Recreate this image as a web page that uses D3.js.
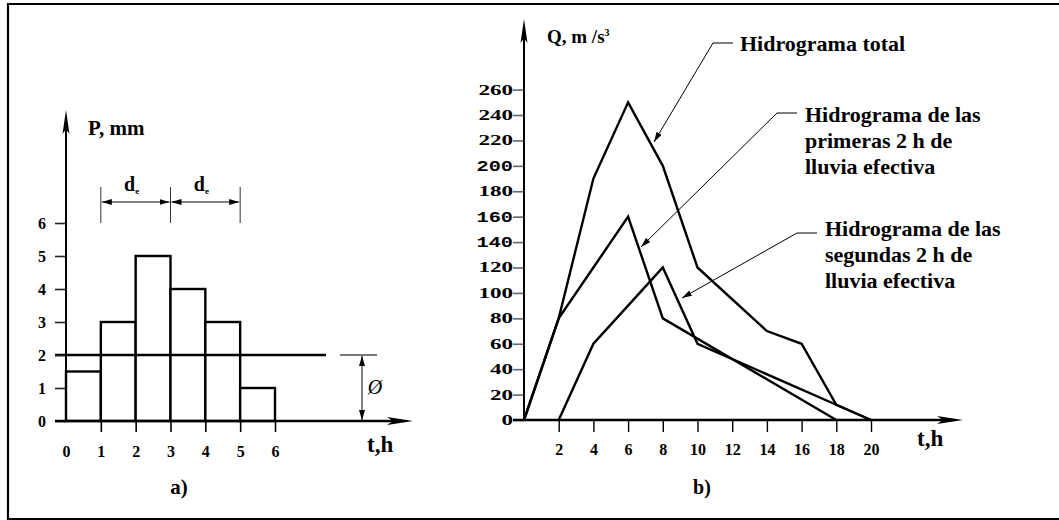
<!DOCTYPE html>
<html>
<head>
<meta charset="utf-8">
<script src="https://cdn.jsdelivr.net/npm/d3@7"></script>
<style>
  html, body { margin: 0; padding: 0; background: #fff; }
  svg { display: block; }
  text { font-family: "Liberation Serif", "Times New Roman", serif; font-weight: bold; fill: #000; }
</style>
</head>
<body>
<svg id="fig" width="1059" height="520"></svg>
<script>
// ---- a) effective rainfall hyetograph ----
const rainStart = [0, 1, 2, 3, 4, 5];        // h
const rainDepth = [1.5, 3, 5, 4, 3, 1];      // mm
const phiIndex = 2;                          // mm/h
const pTicks = [0, 1, 2, 3, 4, 5, 6];
const hourTicks = [0, 1, 2, 3, 4, 5, 6];
const blockBounds = [1, 3, 5];               // limits of the two d_e blocks

// ---- b) hydrographs ----
const qTicks = [0, 20, 40, 60, 80, 100, 120, 140, 160, 180, 200, 220, 240, 260];
const monoTicks = [140, 160, 200];
const tTicks = [2, 4, 6, 8, 10, 12, 14, 16, 18, 20];
const totalT = [0, 2, 4, 6, 8, 10, 14, 16, 18, 20];
const totalQ = [0, 80, 190, 250, 200, 120, 70, 60, 12, 0];
const firstT = [0, 2, 4, 6, 8, 18];
const firstQ = [0, 80, 120, 160, 80, 0];
const secondT = [2, 4, 6, 8, 10, 18, 20];
const secondQ = [0, 60, 90, 120, 60, 12, 0];
const noteTotal = ["Hidrograma total"];
const noteFirst = ["Hidrograma de las", "primeras 2 h de", "lluvia efectiva"];
const noteSecond = ["Hidrograma de las", "segundas 2 h de", "lluvia efectiva"];

const svg = d3.select("#fig");

// outer frame
const frame = svg.append("g").attr("stroke", "#000").attr("fill", "none");
frame.append("line").attr("x1", 7).attr("x2", 1059).attr("y1", 4).attr("y2", 4).attr("stroke-width", 2.2);
frame.append("line").attr("x1", 8).attr("x2", 8).attr("y1", 3).attr("y2", 520).attr("stroke-width", 2.2);
frame.append("line").attr("x1", 7).attr("x2", 1059).attr("y1", 519).attr("y2", 519).attr("stroke-width", 2);

// arrow helpers
function arrowHead(g, tipX, tipY, dir, len, half) {
  let d;
  if (dir === "up") {
    d = `M${tipX},${tipY} L${tipX + half},${tipY + len} L${tipX},${tipY + len - 5} L${tipX - half},${tipY + len} Z`;
  } else {
    d = `M${tipX},${tipY} L${tipX - len},${tipY - half} L${tipX - len + 6},${tipY} L${tipX - len},${tipY + half} Z`;
  }
  g.append("path").attr("d", d).attr("fill", "#000");
}

const defs = svg.append("defs");
defs.append("marker").attr("id", "tip").attr("viewBox", "0 0 10 6")
  .attr("refX", 10).attr("refY", 3).attr("markerWidth", 10).attr("markerHeight", 6)
  .attr("markerUnits", "userSpaceOnUse").attr("orient", "auto-start-reverse")
  .append("path").attr("d", "M0,0 L10,3 L0,6 Z").attr("fill", "#000");

// =================== a) ===================
const xA = d3.scaleLinear().domain([0, 6]).range([66, 275]);
const yA = d3.scaleLinear().domain([0, 6]).range([421, 223]);
const gA = svg.append("g");

// rainfall blocks
gA.selectAll("rect.block").data(rainStart).join("rect")
  .attr("class", "block")
  .attr("x", d => xA(d))
  .attr("y", (d, i) => yA(rainDepth[i]))
  .attr("width", d => xA(d + 1) - xA(d))
  .attr("height", (d, i) => yA(0) - yA(rainDepth[i]))
  .attr("fill", "#fff").attr("stroke", "#000").attr("stroke-width", 2.4);

// phi index line
gA.append("line").attr("x1", 55).attr("x2", 326)
  .attr("y1", yA(phiIndex)).attr("y2", yA(phiIndex))
  .attr("stroke", "#000").attr("stroke-width", 2.4);
gA.append("line").attr("x1", 340).attr("x2", 377)
  .attr("y1", yA(phiIndex)).attr("y2", yA(phiIndex))
  .attr("stroke", "#777").attr("stroke-width", 2);
gA.append("line").attr("x1", 362).attr("x2", 362)
  .attr("y1", yA(phiIndex) + 1).attr("y2", yA(0) - 1)
  .attr("stroke", "#000").attr("stroke-width", 1)
  .attr("marker-start", "url(#tip)").attr("marker-end", "url(#tip)");
gA.append("text").attr("x", 375).attr("y", 394)
  .attr("text-anchor", "middle")
  .style("font-weight", "normal").style("font-style", "italic").style("font-size", "20px")
  .text("Ø");

// y axis
const axA = gA.append("g").attr("transform", `translate(${xA(0)},0)`)
  .call(d3.axisLeft(yA).tickValues(pTicks).tickSize(11).tickPadding(9).tickFormat(d3.format("d")));
axA.select(".domain").remove();
axA.selectAll(".tick line").attr("stroke", "#222").attr("stroke-width", 1.6);
axA.selectAll(".tick text").attr("font-family", null).style("font-size", "16px");
gA.append("line").attr("x1", xA(0)).attr("x2", xA(0)).attr("y1", yA(0) + 1).attr("y2", 120)
  .attr("stroke", "#000").attr("stroke-width", 2);
arrowHead(gA, xA(0), 110, "up", 24, 3.5);

// x axis
const axAx = gA.append("g").attr("transform", `translate(0,${yA(0)})`)
  .call(d3.axisBottom(xA).tickValues(hourTicks).tickSize(11).tickPadding(14).tickFormat(d3.format("d")));
axAx.select(".domain").remove();
axAx.selectAll(".tick line").attr("stroke", "#000").attr("stroke-width", 1.6)
  .attr("opacity", d => d === 0 ? 0 : 1);
axAx.selectAll(".tick text").attr("font-family", null).style("font-size", "16px");
gA.append("line").attr("x1", 55).attr("x2", 400).attr("y1", yA(0)).attr("y2", yA(0))
  .attr("stroke", "#000").attr("stroke-width", 2.4);
arrowHead(gA, 413, yA(0), "right", 26, 4);

// d_e dimension marks
gA.selectAll("line.bound").data(blockBounds).join("line").attr("class", "bound")
  .attr("x1", d => xA(d)).attr("x2", d => xA(d)).attr("y1", 187).attr("y2", 223)
  .attr("stroke", "#333").attr("stroke-width", 1);
d3.pairs(blockBounds).forEach(([a, b]) => {
  gA.append("line").attr("x1", xA(a) + 1).attr("x2", xA(b) - 1).attr("y1", 202).attr("y2", 202)
    .attr("stroke", "#000").attr("stroke-width", 1)
    .attr("marker-start", "url(#tip)").attr("marker-end", "url(#tip)");
  const t = gA.append("text").attr("x", (xA(a) + xA(b)) / 2 - 4).attr("y", 191)
    .attr("text-anchor", "middle").style("font-size", "20px");
  t.append("tspan").text("d");
  t.append("tspan").attr("dy", 3).style("font-size", "9px").text("e");
});

gA.append("text").attr("x", 88).attr("y", 135).style("font-size", "21px").text("P, mm");
gA.append("text").attr("x", 367).attr("y", 452).style("font-size", "23px").text("t,h");
gA.append("text").attr("x", 179).attr("y", 494).attr("text-anchor", "middle").style("font-size", "21px").text("a)");

// =================== b) ===================
const xB = d3.scaleLinear().domain([0, 20]).range([524, 871]);
const yB = d3.scaleLinear().domain([0, 260]).range([420, 89.6]);
const gB = svg.append("g");

// y axis (wide digits, a few set in a monospaced face)
const axB = gB.append("g").attr("transform", `translate(${xB(0)},0)`)
  .call(d3.axisLeft(yB).tickValues(qTicks).tickSize(11).tickPadding(0).tickFormat(d3.format("d")));
axB.select(".domain").remove();
axB.selectAll(".tick line").attr("stroke", "#666").attr("stroke-width", 1.6);
axB.selectAll(".tick text").attr("font-family", null)
  .attr("x", 0)
  .attr("transform", d => monoTicks.includes(d) ? "translate(-11,0) scale(1.35,1)" : "translate(-11,0) scale(1.65,1)")
  .style("font-size", "14px")
  .filter(d => monoTicks.includes(d))
  .style("font-family", "'Liberation Mono', 'Courier New', monospace")
  .style("font-size", "15px");
gB.append("line").attr("x1", xB(0)).attr("x2", xB(0)).attr("y1", yB(0) + 1).attr("y2", 30)
  .attr("stroke", "#000").attr("stroke-width", 2);
arrowHead(gB, xB(0), 19, "up", 24, 3.5);

// x axis
const axBx = gB.append("g").attr("transform", `translate(0,${yB(0)})`)
  .call(d3.axisBottom(xB).tickValues(tTicks).tickSize(12).tickPadding(12).tickFormat(d3.format("d")));
axBx.select(".domain").remove();
axBx.selectAll(".tick line").attr("stroke", "#000").attr("stroke-width", 1.4);
axBx.selectAll(".tick text").attr("font-family", null).style("font-size", "16px");
gB.append("line").attr("x1", 513).attr("x2", 950).attr("y1", yB(0)).attr("y2", yB(0))
  .attr("stroke", "#000").attr("stroke-width", 2.4);
arrowHead(gB, 963, yB(0), "right", 26, 4);

// hydrograph curves
const line = d3.line().x(d => xB(d[0])).y(d => yB(d[1]));
[[totalT, totalQ], [firstT, firstQ], [secondT, secondQ]].forEach(([t, q]) => {
  gB.append("path").datum(d3.zip(t, q)).attr("d", line)
    .attr("fill", "none").attr("stroke", "#000").attr("stroke-width", 2.4)
    .attr("stroke-linejoin", "miter");
});

// callouts
function callout(lines, textX, baseY, step, elbowX, elbowEnd, elbowY, tipX, tipY) {
  gB.append("line").attr("x1", elbowX).attr("x2", elbowEnd).attr("y1", elbowY).attr("y2", elbowY)
    .attr("stroke", "#555").attr("stroke-width", 1.5);
  gB.append("line").attr("x1", elbowX).attr("y1", elbowY).attr("x2", tipX).attr("y2", tipY)
    .attr("stroke", "#000").attr("stroke-width", 1)
    .attr("marker-end", "url(#tip)");
  const t = gB.append("text").style("font-size", "22px");
  lines.forEach((s, i) => t.append("tspan").attr("x", textX).attr("y", baseY + i * step).text(s));
}
callout(noteTotal, 740, 51, 0, 713, 733, 43, 654, 142);
callout(noteFirst, 805, 122, 26, 777, 797, 113, 641, 247);
callout(noteSecond, 825, 236, 26, 797, 817, 233, 682, 298);

gB.append("text").attr("x", 547).attr("y", 43).style("font-size", "19px")
  .text("Q, m /s").append("tspan").attr("dy", -7).style("font-size", "10px").text("3");
gB.append("text").attr("x", 917).attr("y", 446).style("font-size", "23px").text("t,h");
gB.append("text").attr("x", 702).attr("y", 494).attr("text-anchor", "middle").style("font-size", "20px").text("b)");
</script>
</body>
</html>
